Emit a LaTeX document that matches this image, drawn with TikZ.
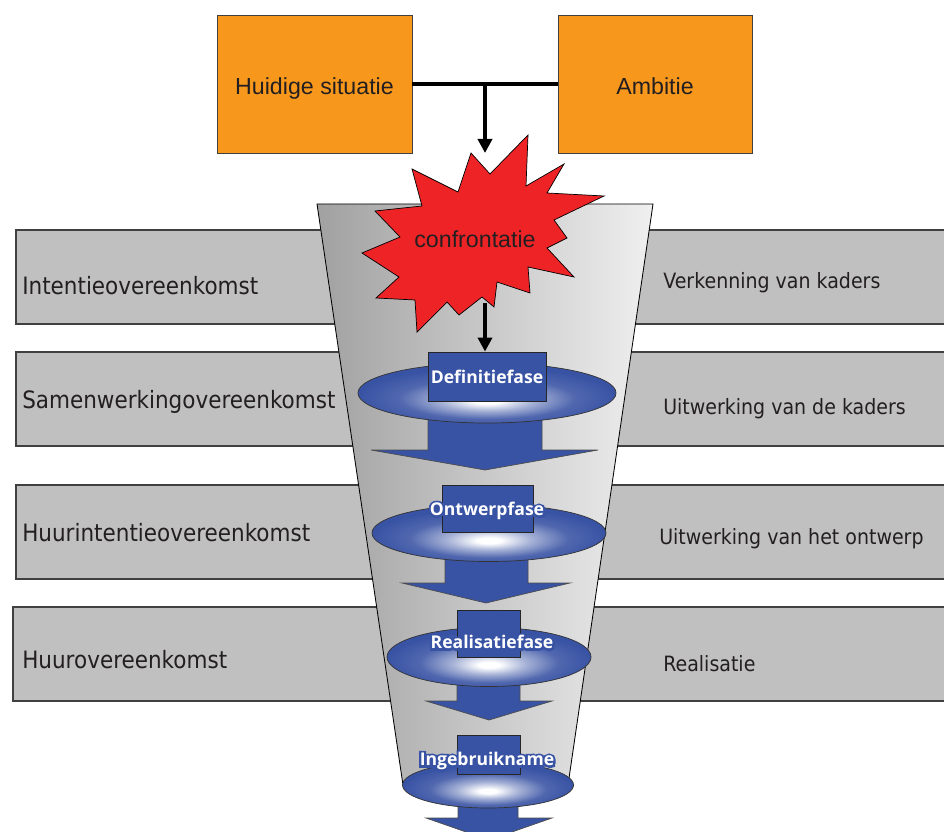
\documentclass[tikz,border=0pt]{standalone}
\usepackage{fontspec}
\setmainfont{Liberation Sans}
\newfontfamily\bandfont{DejaVu Sans}[FakeStretch=0.9]
\newfontfamily\phasefont{Open Sans}
\newfontfamily\phasehalo{Open Sans}[UprightFeatures={FakeBold=25}, BoldFeatures={FakeBold=25}]
\usepackage{tikz}
\usetikzlibrary{arrows.meta,calc,shapes.geometric}
\definecolor{sitorange}{HTML}{F7981D}
\definecolor{bandgray}{HTML}{C0C0C0}
\definecolor{starred}{HTML}{EE2326}
\definecolor{phaseblue}{HTML}{3953A4}
\definecolor{inkgray}{HTML}{231F20}
\pgfdeclareradialshading{phaseglow}{\pgfpoint{0bp}{-7bp}}{color(0bp)=(white); color(2.5bp)=(white); color(9bp)=(phaseblue!45); color(17bp)=(phaseblue!88); color(25bp)=(phaseblue); color(50bp)=(phaseblue)}

\begin{document}
\begin{tikzpicture}[
    x=0.025cm, y=-0.025cm,
    sitbox/.style={draw=black!75, fill=sitorange, line width=0.6pt, text=inkgray, text height=17pt, text depth=1.4pt, font=\fontsize{16.5}{18}\selectfont},
    band/.style={draw=black!75, fill=bandgray, line width=0.8pt},
    bandlbl/.style={text=inkgray, anchor=base west, inner sep=0pt, font=\bandfont\fontsize{17}{19}\selectfont},
    steplbl/.style={text=inkgray, anchor=base west, inner sep=0pt, font=\bandfont\fontsize{15}{17}\selectfont},
    link/.style={line width=3.4pt},
    tip/.style={-{Triangle[width=10pt,length=10pt]}},
    phaseell/.style={ellipse, draw=black!80, line width=0.5pt, shading=phaseglow},
    phasebox/.style={draw=black!85, fill=phaseblue, line width=0.6pt},
    blockarrow/.style={draw=black!70, fill=phaseblue, line width=0.5pt},
    phasehl/.style={text=phaseblue, inner sep=0pt, font=\phasehalo\bfseries\fontsize{12.5}{14}\selectfont},
    phaselbl/.style={text=white, inner sep=0pt, font=\phasefont\bfseries\fontsize{12.5}{14}\selectfont}
]
\useasboundingbox (0,0) rectangle (944,832);

% grey bands behind the funnel
\foreach \t/\b in {230/324, 352/446, 485/579}
    \draw[band] (950,\t) -- (16,\t) -- (16,\b) -- (950,\b);
\draw[band] (950,607) -- (13,607) -- (13,701) -- (950,701);

% funnel
\draw[black, line width=0.6pt, left color=black!37, right color=black!6]
    (317,204) -- (653,204) -- (568,785) -- (403,785) -- cycle;

% starting points
\node[sitbox, minimum width=4.875cm, minimum height=3.45cm] (huidig) at (314.5,84) {Huidige situatie};
\node[sitbox, minimum width=4.85cm, minimum height=3.45cm] (ambitie) at (655,84) {Ambitie};

% confrontation star
\draw[fill=starred, draw=black, line width=0.5pt]
    (471,153) -- (490,174) -- (528,135) -- (526,186) -- (564,164) -- (547,193)
    -- (604,196) -- (554,220) -- (567,238) -- (547,248) -- (574,277) -- (528,267)
    -- (530,293) -- (497,282) -- (494,307) -- (482,297) -- (459,315) -- (447,302)
    -- (417,332) -- (415,300) -- (376,298) -- (399,277) -- (362,253) -- (400,237)
    -- (375,211) -- (422,206) -- (412,169) -- (458,192) -- cycle;
\node[text=inkgray, anchor=base, font=\fontsize{16.5}{18}\selectfont] (confr) at (475,248) {confrontatie};

\coordinate (split) at (485,84);
\coordinate (startop) at (485,153);
\coordinate (starfoot) at (485,303);
\draw[link] (huidig.east) -- (ambitie.west);
\draw[link, tip] (split) -- (startop);

% phases
\draw[blockarrow] (428,405) -- (428,450) -- (371,450) -- (485,470) -- (598,450) -- (542,450) -- (542,405) -- cycle;
\draw[blockarrow] (445,550) -- (445,583) -- (402,583) -- (486,603) -- (570,583) -- (528,583) -- (528,550) -- cycle;
\draw[blockarrow] (457,675) -- (457,701) -- (426,701) -- (489,720) -- (552,701) -- (520,701) -- (520,675) -- cycle;
\draw[blockarrow] (458,800) -- (458,818) -- (426,818) -- (489,840) -- (552,818) -- (518,818) -- (518,800) -- cycle;

\node[phaseell, minimum width=6.45cm, minimum height=1.5cm] (defell) at (487,393) {};
\node[phaseell, minimum width=5.85cm, minimum height=1.425cm] (ontell) at (489,533) {};
\node[phaseell, minimum width=5.1cm, minimum height=1.475cm] (realell) at (489,657) {};
\node[phaseell, minimum width=4.275cm, minimum height=1.15cm] (ingell) at (488,785) {};

\node[phasebox, minimum width=2.95cm, minimum height=1.225cm] (defbox) at (487,376.5) {};
\node[phasebox, minimum width=2.275cm, minimum height=1.175cm] (ontbox) at (487.5,508.5) {};
\node[phasebox, minimum width=1.575cm, minimum height=1.175cm] (realbox) at (488.5,633.5) {};
\node[phasebox, minimum width=1.575cm, minimum height=0.975cm] (ingbox) at (488.5,754.5) {};

\node[phasehl] (defhl) at (487,377) {Definitiefase};
\node[phasehl] (onthl) at (487,511) {Ontwerpfase};
\node[phasehl] (realhl) at (492,642) {Realisatiefase};
\node[phasehl] (inghl) at (487,761) {Ingebruikname};
\node[phaselbl] (deflbl) at (defhl) {Definitiefase};
\node[phaselbl] (ontlbl) at (onthl) {Ontwerpfase};
\node[phaselbl] (reallbl) at (realhl) {Realisatiefase};
\node[phaselbl] (inglbl) at (inghl) {Ingebruikname};

\draw[link, tip] (starfoot) -- (defbox.north -| starfoot);

% agreements and steps
\node[bandlbl] (intentie) at (22,295) {Intentieovereenkomst};
\node[bandlbl] (samenw) at (22,408) {Samenwerkingovereenkomst};
\node[bandlbl] (huurint) at (22,541) {Huurintentieovereenkomst};
\node[bandlbl] (huurov) at (22,668) {Huurovereenkomst};

\node[steplbl] (verk) at (663,289) {Verkenning van kaders};
\node[steplbl] (uitkad) at (663,414) {Uitwerking van de kaders};
\node[steplbl] (uitontw) at (659,544) {Uitwerking van het ontwerp};
\node[steplbl] (real) at (663,671) {Realisatie};
\end{tikzpicture}
\end{document}
